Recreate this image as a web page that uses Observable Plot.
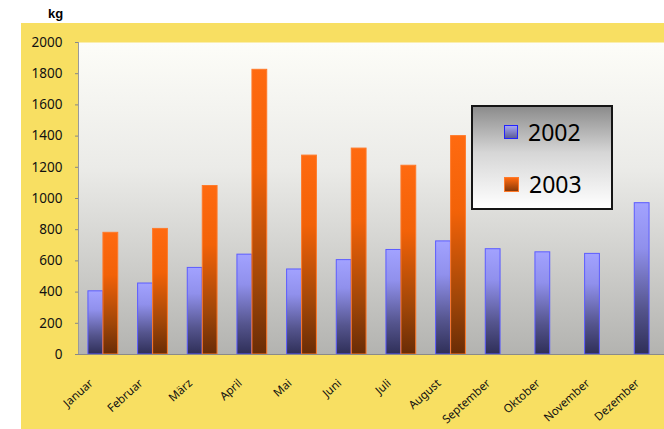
<!DOCTYPE html>
<html>
<head>
<meta charset="utf-8">
<script src="https://cdn.jsdelivr.net/npm/d3@7"></script>
<script src="https://cdn.jsdelivr.net/npm/@observablehq/plot@0.6"></script>
<style>
  html, body { margin: 0; padding: 0; background: #fff; overflow: hidden; }
  #wrap { position: relative; width: 664px; height: 429px; overflow: hidden; }
  #paper { position: absolute; left: 21px; top: 23px; right: 0; bottom: 0; background: #f8df62; }
  #unit { position: absolute; left: 48px; top: 6px; font: bold 13px "Liberation Sans", Arial, sans-serif; color: #000; }
  #chart { position: absolute; left: 0; top: 0; width: 680px; }
  #legend {
    position: absolute; left: 471px; top: 105px; width: 138px; height: 101px;
    border: 2px solid #151515;
    background: linear-gradient(#8c8c8c, #d6d6d6 45%, #ffffff);
    font-family: "Noto Sans", sans-serif; font-size: 23px; color: #000;
  }
  .item { position: absolute; left: 31px; display: flex; align-items: center; height: 24px; }
  .swatch { width: 13px; height: 13px; margin-right: 10px; }
  .s2002 { border: 1.5px solid #2323ff; background: linear-gradient(#a4a4f0, #5e5e98); width: 12px; height: 12px; }
  .s2003 { border: 1px solid #ff7a2a; background: linear-gradient(#ff6a10, #8a3a08); }
</style>
</head>
<body>
<div id="wrap">
  <div id="paper"></div>
  <div id="unit">kg</div>
  <div id="chart"></div>
  <div id="legend">
    <div class="item" style="top:13px"><div class="swatch s2002"></div><span>2002</span></div>
    <div class="item" style="top:65px"><div class="swatch s2003"></div><span>2003</span></div>
  </div>
</div>
<script>
// Monthly quantities in kg
const months = ["Januar", "Februar", "März", "April", "Mai", "Juni", "Juli", "August",
                "September", "Oktober", "November", "Dezember"];
const kg2002 = [405, 455, 555, 640, 545, 605, 670, 725, 675, 655, 645, 970];
const kg2003 = [780, 805, 1080, 1825, 1275, 1320, 1210, 1400];
const yTicks = [0, 200, 400, 600, 800, 1000, 1200, 1400, 1600, 1800, 2000];

const rows2002 = months.map((month, i) => ({month, kg: kg2002[i]}));
const rows2003 = kg2003.map((kg, i) => ({month: months[i], kg}));

const chart = Plot.plot({
  width: 680,
  height: 429,
  marginLeft: 78,
  marginRight: 6,
  marginTop: 42,
  marginBottom: 75,
  style: {background: "transparent", fontFamily: "Noto Sans, sans-serif", color: "#111", overflow: "visible", maxWidth: "none"},
  x: {domain: months, paddingInner: 0.4, paddingOuter: 0.2, round: false, axis: null},
  y: {domain: [0, 2000], axis: null},
  marks: [
    Plot.frame({fill: "url(#plotBg)", stroke: null}),
    Plot.frame({anchor: "left", stroke: "#9a9a9a"}),
    Plot.barY(rows2002, {x: "month", y: "kg", insetRight: 15, fill: "url(#bar2002)", stroke: "#5c5cff", strokeWidth: 1}),
    Plot.barY(rows2003, {x: "month", y: "kg", insetLeft: 15, fill: "url(#bar2003)", stroke: "#ff7a2a", strokeWidth: 1}),
    Plot.ruleY([0], {stroke: "#8a8a8a"}),
    Plot.axisY({ticks: yTicks, tickSize: 3, tickPadding: 13, tickFormat: "d", label: null, fontSize: 13.5, stroke: "#888"}),
    Plot.axisX({tickRotate: -42, tickSize: 0, tickPadding: 27, dx: -12, label: null, fontSize: 11.5})
  ]
});
chart.style.maxWidth = "none";

// Gradients for the plot background and the two bar series
const defs = d3.select(chart).insert("defs", ":first-child");
function gradient(id, stops) {
  const g = defs.append("linearGradient").attr("id", id)
    .attr("x1", 0).attr("y1", 0).attr("x2", 0).attr("y2", 1);
  for (const [offset, color] of stops) g.append("stop").attr("offset", offset).attr("stop-color", color);
}
gradient("plotBg", [[0, "#fdfdf8"], [0.4, "#ebebe8"], [1, "#b3b3b0"]]);
gradient("bar2002", [[0, "#a2a2ff"], [0.3, "#9090ec"], [0.7, "#55558e"], [1, "#2f2f58"]]);
gradient("bar2003", [[0, "#ff6a10"], [0.35, "#f26208"], [0.75, "#a04608"], [1, "#6a2c06"]]);

document.getElementById("chart").append(chart);
</script>
</body>
</html>
